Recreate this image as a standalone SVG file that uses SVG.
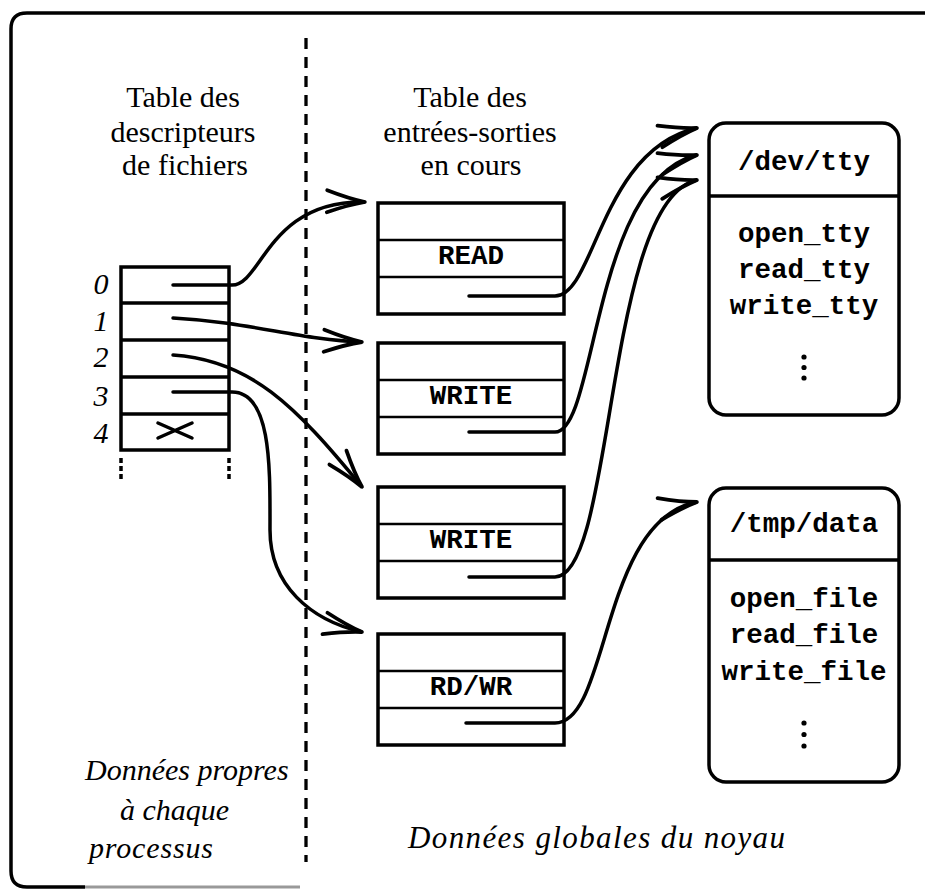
<svg xmlns="http://www.w3.org/2000/svg" width="925" height="889" viewBox="0 0 925 889">
  <style>
    .line { fill: none; stroke: #000; stroke-width: 3.5; }
    .thin { fill: none; stroke: #000; stroke-width: 2.5; }
    .conn { fill: none; stroke: #000; stroke-width: 3.5; stroke-linecap: round; }
    .rm { font-family: "Liberation Serif", "DejaVu Serif", serif; font-size: 30px; fill: #000; }
    .it { font-family: "Liberation Serif", "DejaVu Serif", serif; font-style: italic; font-size: 30px; fill: #000; }
    .cap { font-family: "Liberation Serif", "DejaVu Serif", serif; font-style: italic; font-size: 31px; fill: #000; }
    .tt { font-family: "Liberation Mono", "DejaVu Sans Mono", monospace; font-weight: bold; font-size: 27.5px; fill: #000; }
  </style>
  <defs>
    <marker id="arrow" markerUnits="userSpaceOnUse" markerWidth="50" markerHeight="30" viewBox="-42 -15 50 30" refX="0" refY="0" orient="auto">
      <path d="M-38,-11 Q-16,-3 0,0 Q-16,3 -38,11" fill="none" stroke="#000" stroke-width="3.8" stroke-linecap="round"/>
    </marker>
  </defs>
  <rect width="925" height="889" fill="#fff"/>

  <!-- outer frame (open on the right and lower right) -->
  <path d="M85,887 H27 Q11,887 11,871 V29 Q11,13 27,13 H925" class="line"/>
  <path d="M85,887 H300" fill="none" stroke="#999" stroke-width="3"/>

  <!-- process / kernel separator -->
  <line x1="306" y1="38" x2="306" y2="862" stroke="#000" stroke-width="3.3" stroke-dasharray="11 8"/>

  <!-- headings -->
  <g id="heading-fd">
    <text class="rm" x="183" y="107" text-anchor="middle">Table des</text>
    <text class="rm" x="183" y="142" text-anchor="middle">descripteurs</text>
    <text class="rm" x="185" y="175" text-anchor="middle">de fichiers</text>
  </g>
  <g id="heading-io">
    <text class="rm" x="470" y="107" text-anchor="middle">Table des</text>
    <text class="rm" x="470" y="142" text-anchor="middle">entrées-sorties</text>
    <text class="rm" x="471" y="175" text-anchor="middle">en cours</text>
  </g>

  <!-- file descriptor table -->
  <g id="fd-table">
    <rect x="121" y="267" width="108" height="183" class="line"/>
    <line x1="121" y1="303" x2="229" y2="303" class="line"/>
    <line x1="121" y1="340" x2="229" y2="340" class="line"/>
    <line x1="121" y1="377" x2="229" y2="377" class="line"/>
    <line x1="121" y1="414" x2="229" y2="414" class="line"/>
    <path d="M158,423 L192,438 M158,438 L192,423" class="line" stroke-linecap="round"/>
    <line x1="121" y1="458" x2="121" y2="481" stroke="#000" stroke-width="3.5" stroke-dasharray="5 3"/>
    <line x1="229" y1="458" x2="229" y2="481" stroke="#000" stroke-width="3.5" stroke-dasharray="5 3"/>
    <text class="it" x="101" y="294" text-anchor="middle">0</text>
    <text class="it" x="101" y="331" text-anchor="middle">1</text>
    <text class="it" x="101" y="367" text-anchor="middle">2</text>
    <text class="it" x="101" y="406" text-anchor="middle">3</text>
    <text class="it" x="101" y="443" text-anchor="middle">4</text>
  </g>

  <!-- open file table entries -->
  <g id="entry-read">
    <rect x="378" y="203" width="186" height="111" class="line"/>
    <line x1="378" y1="240" x2="564" y2="240" class="thin"/>
    <line x1="378" y1="277" x2="564" y2="277" class="thin"/>
    <text class="tt" x="471" y="264" text-anchor="middle">READ</text>
  </g>
  <g id="entry-write-1">
    <rect x="378" y="343" width="186" height="111" class="line"/>
    <line x1="378" y1="380" x2="564" y2="380" class="thin"/>
    <line x1="378" y1="417" x2="564" y2="417" class="thin"/>
    <text class="tt" x="471" y="404" text-anchor="middle">WRITE</text>
  </g>
  <g id="entry-write-2">
    <rect x="378" y="487" width="186" height="111" class="line"/>
    <line x1="378" y1="524" x2="564" y2="524" class="thin"/>
    <line x1="378" y1="561" x2="564" y2="561" class="thin"/>
    <text class="tt" x="471" y="548" text-anchor="middle">WRITE</text>
  </g>
  <g id="entry-rdwr">
    <rect x="378" y="634" width="186" height="111" class="line"/>
    <line x1="378" y1="671" x2="564" y2="671" class="thin"/>
    <line x1="378" y1="708" x2="564" y2="708" class="thin"/>
    <text class="tt" x="471" y="695" text-anchor="middle">RD/WR</text>
  </g>

  <!-- drivers -->
  <g id="dev-tty">
    <rect x="709" y="123" width="190" height="292" rx="17" class="line"/>
    <line x1="709" y1="196" x2="899" y2="196" class="line"/>
    <text class="tt" x="804" y="170" text-anchor="middle">/dev/tty</text>
    <text class="tt" x="804" y="242" text-anchor="middle">open_tty</text>
    <text class="tt" x="804" y="278" text-anchor="middle">read_tty</text>
    <text class="tt" x="804" y="314" text-anchor="middle">write_tty</text>
    <circle cx="804" cy="357" r="2.6"/>
    <circle cx="804" cy="367.5" r="2.6"/>
    <circle cx="804" cy="378" r="2.6"/>
  </g>
  <g id="tmp-data">
    <rect x="709" y="488" width="190" height="294" rx="17" class="line"/>
    <line x1="709" y1="560" x2="899" y2="560" class="line"/>
    <text class="tt" x="804" y="532" text-anchor="middle">/tmp/data</text>
    <text class="tt" x="804" y="607" text-anchor="middle">open_file</text>
    <text class="tt" x="804" y="643" text-anchor="middle">read_file</text>
    <text class="tt" x="804" y="680" text-anchor="middle">write_file</text>
    <circle cx="804" cy="723" r="2.6"/>
    <circle cx="804" cy="734.5" r="2.6"/>
    <circle cx="804" cy="746" r="2.6"/>
  </g>

  <!-- captions -->
  <g id="caption-process">
    <text class="it" x="85" y="780">Données propres</text>
    <text class="it" x="120" y="820">à chaque</text>
    <text class="it" x="89" y="858" textLength="124" lengthAdjust="spacing">processus</text>
  </g>
  <g id="caption-kernel">
    <text class="cap" x="408" y="848" textLength="377" lengthAdjust="spacing">Données globales du noyau</text>
  </g>

  <!-- pointers -->
  <g id="connectors">
    <path class="conn" d="M173,285 H232 C262,285 268,200 365,202" marker-end="url(#arrow)"/>
    <path class="conn" d="M173,318 C250,322 300,340 362,342" marker-end="url(#arrow)"/>
    <path class="conn" d="M173,355 C250,360 295,405 362,487" marker-end="url(#arrow)"/>
    <path class="conn" d="M173,392 H232 C272,392 270,470 270,530 C270,585 310,620 362,632" marker-end="url(#arrow)"/>
    <path class="conn" d="M469,296 H555 C595,296 600,150 697,128" marker-end="url(#arrow)"/>
    <path class="conn" d="M469,432 H555 C597,432 592,180 697,155" marker-end="url(#arrow)"/>
    <path class="conn" d="M469,577 H555 C615,577 605,200 697,180" marker-end="url(#arrow)"/>
    <path class="conn" d="M466,723 H555 C610,723 600,520 697,502" marker-end="url(#arrow)"/>
  </g>
</svg>
